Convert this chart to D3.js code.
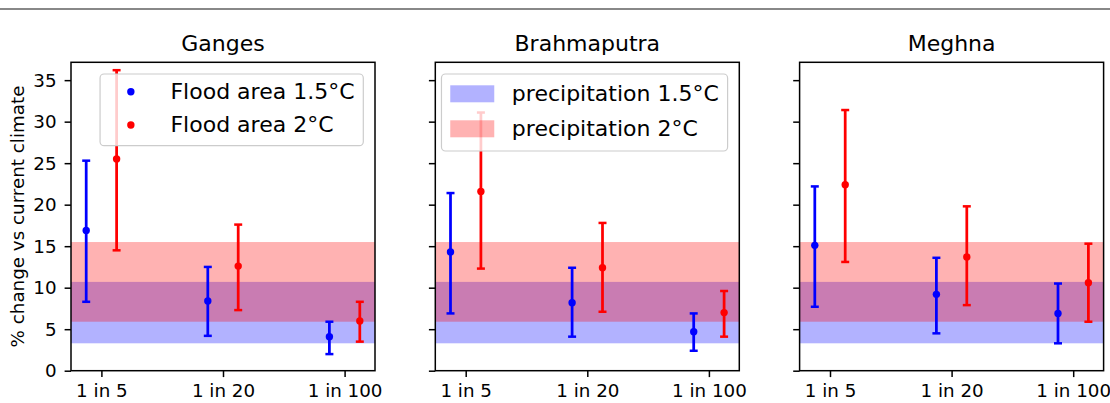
<!DOCTYPE html>
<html>
<head>
<meta charset="utf-8">
<script src="https://cdn.jsdelivr.net/npm/d3@7"></script>
<style>
  body { margin: 0; background: #fff; }
  svg { display: block; font-family: 'DejaVu Sans', sans-serif; }
</style>
</head>
<body>
<svg id="chart" width="1110" height="403"></svg>
<script>
const rivers = ['Ganges', 'Brahmaputra', 'Meghna'];
const periods = ['1 in 5', '1 in 20', '1 in 100'];
const yTicks = [0, 5, 10, 15, 20, 25, 30, 35];

// flood area change, 1.5C (value, low, high) per river x period
const flood15 = [[16.9, 8.4, 4.1], [14.3, 8.2, 4.7], [15.1, 9.2, 6.9]];
const flood15Lo = [[8.3, 4.2, 2.0], [6.9, 4.1, 2.4], [7.7, 4.5, 3.3]];
const flood15Hi = [[25.3, 12.5, 5.9], [21.4, 12.4, 6.9], [22.2, 13.6, 10.5]];

// flood area change, 2C
const flood20 = [[25.5, 12.6, 6.0], [21.6, 12.4, 7.0], [22.4, 13.7, 10.6]];
const flood20Lo = [[14.5, 7.3, 3.5], [12.3, 7.1, 4.1], [13.1, 7.9, 5.9]];
const flood20Hi = [[36.2, 17.6, 8.3], [31.1, 17.8, 9.6], [31.4, 19.8, 15.3]];

// precipitation change bands [low, high]
const precip15 = [3.3, 10.7];
const precip20 = [5.9, 15.5];

const svg = d3.select('#chart');
const W = 1110, H = 403;
const plotTop = 62.3, plotBottom = 370.7;
const panelW = 304, panelLeft = [71, 435.3, 799.6];
const tickFont = 18.3, bigFont = 22;

// thin gray rule along the top
svg.append('line')
    .attr('x1', 0).attr('x2', W)
    .attr('y1', 9).attr('y2', 9)
    .attr('stroke', '#888').attr('stroke-width', 2);

const yScale = d3.scaleLinear().domain([0, 37.15]).range([plotBottom, plotTop]);

rivers.forEach((river, i) => {
    const left = panelLeft[i];
    const xScale = d3.scalePoint().domain(periods).range([left, left + panelW]).padding(0.25);
    const off = xScale.step() * 0.125;
    const g = svg.append('g');

    // precipitation bands (blue first, red on top)
    [[precip15, 'blue'], [precip20, 'red']].forEach(([band, col]) => {
        g.append('rect')
            .attr('x', left).attr('width', panelW)
            .attr('y', yScale(band[1]))
            .attr('height', yScale(band[0]) - yScale(band[1]))
            .attr('fill', col).attr('fill-opacity', 0.3);
    });

    // error bars
    const series = [
        { v: flood15[i], lo: flood15Lo[i], hi: flood15Hi[i], col: 'blue', dx: -off },
        { v: flood20[i], lo: flood20Lo[i], hi: flood20Hi[i], col: 'red', dx: off }
    ];
    series.forEach(s => {
        const pts = periods.map((p, j) => ({ x: xScale(p) + s.dx, v: s.v[j], lo: s.lo[j], hi: s.hi[j] }));
        const eg = g.append('g');
        eg.selectAll('line.bar').data(pts).join('line')
            .attr('class', 'bar')
            .attr('x1', d => d.x).attr('x2', d => d.x)
            .attr('y1', d => yScale(d.lo)).attr('y2', d => yScale(d.hi))
            .attr('stroke', s.col).attr('stroke-width', 2.75);
        ['lo', 'hi'].forEach(k => {
            eg.selectAll('line.cap' + k).data(pts).join('line')
                .attr('class', 'cap' + k)
                .attr('x1', d => d.x - 4).attr('x2', d => d.x + 4)
                .attr('y1', d => yScale(d[k])).attr('y2', d => yScale(d[k]))
                .attr('stroke', s.col).attr('stroke-width', 2.5);
        });
        eg.selectAll('circle').data(pts).join('circle')
            .attr('cx', d => d.x).attr('cy', d => yScale(d.v))
            .attr('r', 3.7).attr('fill', s.col);
    });

    // axes
    const xAxis = svg.append('g')
        .attr('transform', `translate(0,${plotBottom})`)
        .call(d3.axisBottom(xScale).tickSize(6.4).tickSizeOuter(0).tickPadding(7));
    const yAxis = svg.append('g')
        .attr('transform', `translate(${left},0)`)
        .call(d3.axisLeft(yScale).tickValues(yTicks).tickSize(6.4).tickSizeOuter(0).tickPadding(8)
            .tickFormat(i === 0 ? d3.format('d') : () => ''));
    [xAxis, yAxis].forEach(a => {
        a.select('.domain').remove();
        a.selectAll('line').attr('stroke', '#000').attr('stroke-width', 1.5);
        a.selectAll('text').attr('fill', '#000').style('font-size', tickFont + 'px')
            .style('font-family', "'DejaVu Sans', sans-serif");
    });

    // frame
    svg.append('rect')
        .attr('x', left).attr('y', plotTop)
        .attr('width', panelW).attr('height', plotBottom - plotTop)
        .attr('fill', 'none').attr('stroke', '#000').attr('stroke-width', 1.5);

    // title
    svg.append('text')
        .attr('x', left + panelW / 2).attr('y', 51.3)
        .attr('text-anchor', 'middle')
        .style('font-size', bigFont + 'px')
        .text(river);
});

// y label
svg.append('text')
    .attr('transform', `translate(24, ${(plotTop + plotBottom) / 2}) rotate(-90)`)
    .attr('text-anchor', 'middle')
    .style('font-size', tickFont + 'px')
    .text('% change vs current climate');

// legends
function legend(left, entries, rows, boxH) {
    const right = left + panelW - 11.7;
    const y0 = plotTop + 11.7;
    const lg = svg.append('g');
    const frame = lg.append('rect')
        .attr('y', y0).attr('height', boxH).attr('rx', 4)
        .attr('fill', '#fff').attr('fill-opacity', 0.8)
        .attr('stroke', '#ccc').attr('stroke-width', 1.2);
    let maxW = 0;
    const items = entries.map((e, k) => {
        const t = lg.append('text')
            .attr('y', rows[k]).attr('dy', '0.34em')
            .style('font-size', bigFont + 'px')
            .text(e.label);
        maxW = Math.max(maxW, t.node().getComputedTextLength());
        return t;
    });
    const boxW = 8.8 + 44 + 17.6 + maxW + 8.8;
    const x0 = right - boxW;
    frame.attr('x', x0).attr('width', boxW);
    items.forEach(t => t.attr('x', x0 + 8.8 + 44 + 17.6));
    entries.forEach((e, k) => {
        if (e.kind === 'dot') {
            lg.append('circle').attr('cx', x0 + 8.8 + 22).attr('cy', rows[k])
                .attr('r', 3.7).attr('fill', e.col);
        } else {
            lg.append('rect').attr('x', x0 + 8.8).attr('y', rows[k] - 8.5)
                .attr('width', 44).attr('height', 17)
                .attr('fill', e.col).attr('fill-opacity', 0.3);
        }
    });
}

legend(panelLeft[0], [
    { label: 'Flood area 1.5°C', col: 'blue', kind: 'dot' },
    { label: 'Flood area 2°C', col: 'red', kind: 'dot' }
], [91.7, 125], 71.7);

legend(panelLeft[1], [
    { label: 'precipitation 1.5°C', col: 'blue', kind: 'patch' },
    { label: 'precipitation 2°C', col: 'red', kind: 'patch' }
], [93.8, 128.8], 77);
</script>
</body>
</html>
